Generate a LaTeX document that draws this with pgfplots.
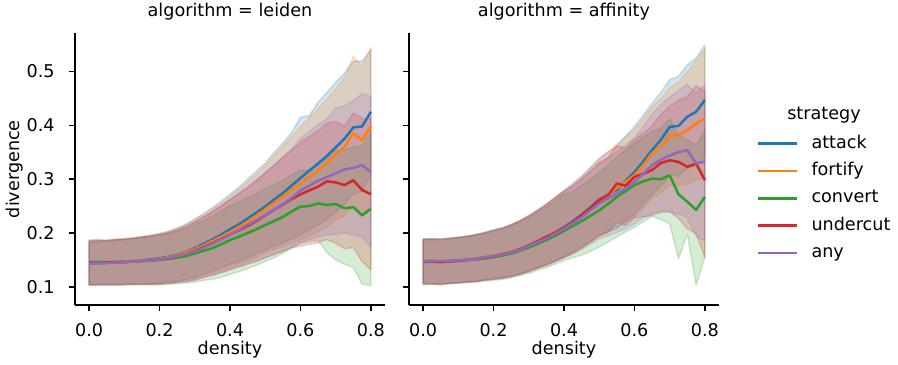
\documentclass[border=0pt]{standalone}
\usepackage{pgfplots}
\pgfplotsset{compat=1.18}
\usepackage{pgfplotstable}
\usepgfplotslibrary{fillbetween}
\usepackage{fontspec}
\setmainfont{DejaVu Sans}
\definecolor{cA}{HTML}{1F77B4}
\definecolor{cF}{HTML}{FF7F0E}
\definecolor{cC}{HTML}{2CA02C}
\definecolor{cU}{HTML}{D62728}
\definecolor{cN}{HTML}{9467BD}

\pgfplotstableread{
x am al ah fm fl fh cm cl ch um ul uh nm nl nh
0 0.145 0.104 0.186 0.145 0.105 0.185 0.146 0.103 0.187 0.145 0.104 0.184 0.143 0.103 0.183
0.025 0.146 0.105 0.187 0.145 0.104 0.186 0.146 0.104 0.188 0.144 0.103 0.185 0.144 0.104 0.184
0.05 0.145 0.104 0.186 0.146 0.105 0.187 0.146 0.105 0.186 0.145 0.104 0.186 0.144 0.103 0.185
0.075 0.146 0.104 0.188 0.146 0.104 0.189 0.146 0.103 0.188 0.146 0.105 0.187 0.145 0.103 0.187
0.1 0.147 0.105 0.189 0.147 0.104 0.190 0.146 0.104 0.188 0.146 0.104 0.188 0.146 0.104 0.188
0.125 0.148 0.105 0.191 0.148 0.106 0.191 0.147 0.104 0.190 0.147 0.104 0.190 0.147 0.105 0.190
0.15 0.149 0.105 0.193 0.149 0.106 0.194 0.148 0.104 0.192 0.148 0.104 0.192 0.148 0.105 0.192
0.175 0.151 0.106 0.196 0.150 0.105 0.196 0.149 0.104 0.194 0.149 0.104 0.194 0.149 0.105 0.194
0.2 0.153 0.107 0.199 0.152 0.106 0.199 0.150 0.104 0.196 0.151 0.105 0.197 0.151 0.105 0.197
0.225 0.156 0.109 0.203 0.155 0.108 0.203 0.152 0.105 0.199 0.153 0.106 0.200 0.154 0.107 0.201
0.25 0.160 0.111 0.209 0.159 0.110 0.209 0.154 0.106 0.203 0.157 0.108 0.206 0.157 0.108 0.206
0.275 0.165 0.114 0.216 0.164 0.113 0.216 0.157 0.107 0.208 0.161 0.110 0.212 0.161 0.110 0.212
0.3 0.172 0.118 0.226 0.170 0.116 0.225 0.162 0.109 0.216 0.167 0.113 0.221 0.166 0.112 0.220
0.325 0.180 0.124 0.236 0.177 0.121 0.234 0.167 0.112 0.223 0.174 0.118 0.230 0.173 0.117 0.229
0.35 0.188 0.129 0.247 0.185 0.126 0.245 0.172 0.114 0.231 0.181 0.122 0.240 0.180 0.121 0.239
0.375 0.197 0.135 0.259 0.193 0.131 0.256 0.179 0.118 0.241 0.189 0.127 0.251 0.188 0.126 0.250
0.4 0.207 0.142 0.272 0.202 0.137 0.268 0.187 0.123 0.251 0.197 0.132 0.262 0.197 0.132 0.262
0.425 0.216 0.147 0.285 0.211 0.142 0.281 0.193 0.128 0.258 0.205 0.137 0.273 0.206 0.138 0.274
0.45 0.227 0.154 0.300 0.221 0.148 0.295 0.200 0.134 0.266 0.213 0.142 0.284 0.215 0.144 0.286
0.475 0.238 0.161 0.315 0.232 0.155 0.309 0.207 0.140 0.274 0.222 0.147 0.297 0.224 0.149 0.299
0.5 0.249 0.168 0.330 0.244 0.163 0.325 0.215 0.147 0.283 0.233 0.154 0.312 0.233 0.154 0.312
0.525 0.262 0.175 0.349 0.256 0.169 0.343 0.222 0.154 0.290 0.243 0.160 0.326 0.243 0.160 0.326
0.55 0.274 0.181 0.367 0.268 0.175 0.361 0.230 0.162 0.298 0.253 0.166 0.340 0.254 0.167 0.341
0.575 0.288 0.189 0.387 0.280 0.181 0.379 0.240 0.172 0.308 0.263 0.172 0.354 0.265 0.174 0.356
0.6 0.302 0.196 0.415 0.292 0.187 0.397 0.249 0.181 0.317 0.272 0.176 0.368 0.279 0.183 0.375
0.625 0.316 0.206 0.418 0.304 0.194 0.414 0.250 0.184 0.316 0.279 0.179 0.379 0.288 0.188 0.388
0.65 0.329 0.215 0.443 0.316 0.202 0.430 0.255 0.186 0.330 0.286 0.182 0.390 0.297 0.193 0.401
0.675 0.343 0.225 0.461 0.330 0.212 0.448 0.252 0.164 0.340 0.296 0.188 0.404 0.304 0.196 0.412
0.7 0.359 0.238 0.480 0.346 0.224 0.468 0.254 0.150 0.354 0.294 0.181 0.407 0.311 0.198 0.432
0.725 0.375 0.253 0.497 0.360 0.232 0.488 0.246 0.142 0.354 0.289 0.171 0.398 0.318 0.200 0.436
0.75 0.396 0.273 0.519 0.385 0.250 0.528 0.248 0.136 0.360 0.298 0.173 0.423 0.321 0.196 0.446
0.775 0.398 0.277 0.519 0.372 0.229 0.510 0.233 0.105 0.361 0.280 0.147 0.413 0.326 0.193 0.459
0.8 0.425 0.309 0.541 0.398 0.251 0.545 0.245 0.103 0.387 0.272 0.132 0.412 0.313 0.173 0.453
}\leiden

\pgfplotstableread{
x am al ah fm fl fh cm cl ch um ul uh nm nl nh
0 0.148 0.106 0.189 0.148 0.106 0.189 0.148 0.106 0.189 0.146 0.104 0.187 0.147 0.105 0.188
0.025 0.148 0.106 0.189 0.147 0.105 0.188 0.148 0.106 0.190 0.147 0.105 0.188 0.148 0.106 0.189
0.05 0.147 0.105 0.188 0.148 0.106 0.189 0.147 0.104 0.188 0.146 0.104 0.187 0.148 0.106 0.190
0.075 0.148 0.107 0.190 0.148 0.107 0.190 0.148 0.106 0.191 0.147 0.106 0.189 0.148 0.107 0.190
0.1 0.149 0.108 0.192 0.149 0.108 0.192 0.149 0.107 0.192 0.148 0.107 0.191 0.149 0.108 0.192
0.125 0.150 0.109 0.194 0.150 0.109 0.194 0.150 0.108 0.194 0.150 0.109 0.194 0.150 0.109 0.194
0.15 0.152 0.110 0.197 0.152 0.110 0.197 0.151 0.109 0.196 0.152 0.110 0.197 0.152 0.110 0.197
0.175 0.155 0.113 0.201 0.155 0.113 0.201 0.153 0.111 0.199 0.154 0.112 0.200 0.155 0.113 0.201
0.2 0.158 0.115 0.206 0.158 0.115 0.206 0.155 0.112 0.203 0.157 0.114 0.205 0.157 0.114 0.205
0.225 0.161 0.117 0.210 0.161 0.117 0.210 0.158 0.114 0.207 0.160 0.116 0.209 0.160 0.116 0.209
0.25 0.165 0.120 0.216 0.165 0.120 0.216 0.162 0.117 0.213 0.164 0.119 0.215 0.164 0.119 0.215
0.275 0.170 0.124 0.223 0.170 0.124 0.223 0.167 0.121 0.220 0.170 0.124 0.223 0.169 0.123 0.222
0.3 0.177 0.129 0.232 0.177 0.129 0.232 0.173 0.125 0.228 0.177 0.129 0.232 0.176 0.128 0.231
0.325 0.184 0.135 0.242 0.184 0.135 0.242 0.180 0.131 0.238 0.185 0.136 0.243 0.183 0.134 0.241
0.35 0.192 0.141 0.253 0.192 0.141 0.253 0.187 0.136 0.248 0.193 0.142 0.254 0.190 0.139 0.251
0.375 0.201 0.148 0.266 0.201 0.148 0.266 0.195 0.142 0.260 0.201 0.148 0.266 0.199 0.146 0.264
0.4 0.211 0.156 0.279 0.210 0.155 0.278 0.204 0.149 0.272 0.210 0.155 0.278 0.208 0.153 0.276
0.425 0.222 0.165 0.292 0.220 0.163 0.290 0.213 0.154 0.277 0.220 0.163 0.288 0.218 0.161 0.286
0.45 0.234 0.174 0.306 0.232 0.172 0.304 0.222 0.159 0.288 0.233 0.173 0.301 0.229 0.169 0.299
0.475 0.248 0.185 0.322 0.246 0.183 0.320 0.232 0.166 0.300 0.246 0.183 0.315 0.242 0.179 0.314
0.5 0.262 0.196 0.339 0.260 0.194 0.337 0.242 0.174 0.312 0.261 0.195 0.331 0.255 0.189 0.329
0.525 0.272 0.203 0.351 0.271 0.202 0.350 0.254 0.183 0.326 0.270 0.201 0.340 0.264 0.195 0.340
0.55 0.280 0.208 0.361 0.284 0.212 0.365 0.267 0.193 0.341 0.292 0.220 0.362 0.273 0.201 0.351
0.575 0.297 0.222 0.380 0.295 0.220 0.378 0.278 0.202 0.354 0.288 0.214 0.358 0.283 0.208 0.363
0.6 0.313 0.235 0.398 0.307 0.229 0.392 0.289 0.211 0.367 0.304 0.228 0.374 0.295 0.217 0.377
0.625 0.333 0.253 0.419 0.326 0.246 0.412 0.296 0.221 0.378 0.310 0.230 0.385 0.310 0.228 0.398
0.65 0.354 0.271 0.441 0.348 0.265 0.435 0.301 0.231 0.389 0.317 0.232 0.399 0.326 0.236 0.421
0.675 0.373 0.286 0.461 0.361 0.274 0.449 0.300 0.225 0.395 0.330 0.240 0.420 0.336 0.238 0.438
0.7 0.397 0.307 0.485 0.379 0.289 0.469 0.307 0.217 0.412 0.335 0.240 0.435 0.344 0.239 0.452
0.725 0.399 0.306 0.491 0.382 0.287 0.480 0.272 0.152 0.382 0.332 0.227 0.447 0.350 0.235 0.465
0.75 0.416 0.320 0.512 0.391 0.291 0.499 0.258 0.198 0.373 0.323 0.208 0.453 0.354 0.229 0.476
0.775 0.425 0.325 0.525 0.403 0.298 0.521 0.243 0.103 0.363 0.329 0.199 0.474 0.329 0.194 0.459
0.8 0.447 0.342 0.549 0.413 0.303 0.541 0.267 0.155 0.392 0.298 0.155 0.463 0.333 0.186 0.475
}\affinity

\newcommand\series[3]{%
  \addplot[#3, line width=2.5pt, line join=round] table[x=x,y=#2m]{#1};
  \addplot[draw=none, forget plot, name path=#2lo] table[x=x,y=#2l]{#1};
  \addplot[draw=none, forget plot, name path=#2hi] table[x=x,y=#2h]{#1};
  \addplot[fill=#3, fill opacity=0.2, draw=#3, draw opacity=0.2, line width=1.5pt, line join=round, forget plot] fill between[of=#2lo and #2hi];
}

\pgfplotsset{
  panel/.style={
    scale only axis, width=310pt, height=272pt,
    xmin=-0.04, xmax=0.84, ymin=0.066, ymax=0.571,
    axis x line*=bottom, axis y line*=left,
    axis line style={line width=1.4pt, -},
    xtick={0,0.2,0.4,0.6,0.8}, ytick={0.1,0.2,0.3,0.4,0.5},
    tick align=outside, major tick length=6.2pt,
    tick style={line width=1.4pt, black},
    /pgf/number format/assume math mode=true,
    /pgf/number format/fixed, /pgf/number format/fixed zerofill,
    /pgf/number format/precision=1,
    tick label style={font=\fontsize{17.6}{21}\selectfont},
    xticklabel style={anchor=base, yshift=-25pt, inner sep=0pt},
    yticklabel style={anchor=east, xshift=-14pt, inner sep=0pt},
    xlabel={density},
    every axis x label/.style={at={(axis description cs:0.5,0)}, anchor=base, yshift=-49pt, font=\fontsize{17.6}{21}\selectfont},
    every axis y label/.style={at={(axis description cs:0,0.5)}, anchor=base, rotate=90, yshift=55.5pt, font=\fontsize{17.6}{21}\selectfont},
    title style={at={(axis description cs:0.5,1)}, anchor=base, yshift=10.5pt, font=\fontsize{17.6}{21}\selectfont},
  }
}

\begin{document}
\begin{tikzpicture}[font=\fontsize{17.6}{21}\selectfont]
\begin{axis}[panel, at={(75pt,59pt)}, anchor=south west,
  title={algorithm = leiden}, ylabel={divergence}]
  \series{\leiden}{a}{cA}
  \series{\leiden}{f}{cF}
  \series{\leiden}{c}{cC}
  \series{\leiden}{u}{cU}
  \series{\leiden}{n}{cN}
\end{axis}
\begin{axis}[panel, at={(409pt,59pt)}, anchor=south west,
  title={algorithm = affinity}, yticklabels={},
  legend entries={attack,fortify,convert,undercut,any},
  legend cell align=left,
  legend image code/.code={\draw[#1, line width=2.5pt] (0pt,0pt) -- (39pt,0pt);},
  legend style={at={(1.1226,0.623)}, anchor=north west, draw=none, fill=none,
    inner sep=0pt, outer sep=0pt, row sep=11.3pt,
    font=\fontsize{17.6}{21}\selectfont,
    nodes={inner sep=0pt, text height=12.5pt, text depth=3.5pt},
    /tikz/every odd column/.append style={column sep=13pt}}]
  \series{\affinity}{a}{cA}
  \series{\affinity}{f}{cF}
  \series{\affinity}{c}{cC}
  \series{\affinity}{u}{cU}
  \series{\affinity}{n}{cN}
\end{axis}
\node[anchor=base] at (824pt,245pt) {strategy};
\path (0,0) rectangle (898pt,364pt);
\end{tikzpicture}
\end{document}
